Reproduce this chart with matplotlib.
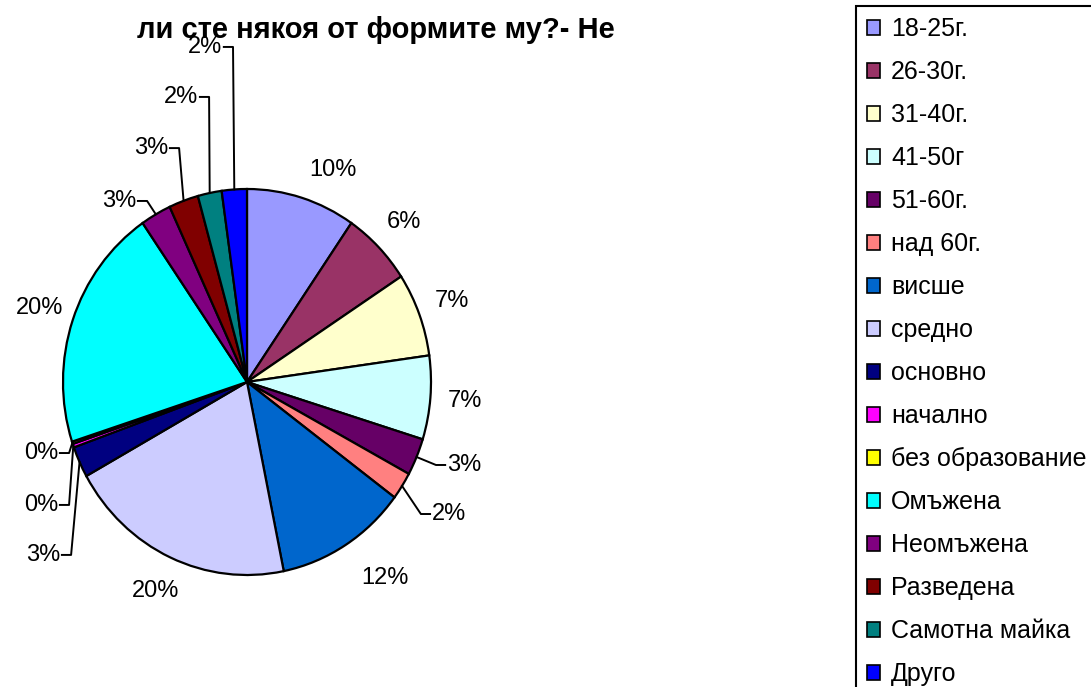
import numpy as np
import matplotlib.pyplot as plt
from matplotlib.patches import Patch

plt.rcParams['font.family'] = ['Liberation Sans', 'DejaVu Sans']

# данни
categories = ["18-25г.", "26-30г.", "31-40г.", "41-50г", "51-60г.", "над 60г.",
              "висше", "средно", "основно", "начално", "без образование",
              "Омъжена", "Неомъжена", "Разведена", "Самотна майка", "Друго"]
values = [9.6, 6.2, 7.0, 7.0, 3.1, 2.3, 11.6, 20.1, 2.6, 0.3, 0.2,
          20.4, 2.7, 2.6, 2.1, 2.2]
colors = ["#9999FF", "#993366", "#FFFFCC", "#CCFFFF", "#660066", "#FF8080",
          "#0066CC", "#CCCCFF", "#000080", "#FF00FF", "#FFFF00",
          "#00FFFF", "#800080", "#800000", "#008080", "#0000FF"]
title = "ли сте някоя от формите му?- Не"

# етикети с водеща линия: (x, y) на края на текста, в единици радиус
leader_pos = {4: (1.087, -0.430), 5: (1.005, -0.684),
              8: (-1.016, -0.896), 9: (-1.027, -0.637), 10: (-1.027, -0.368),
              12: (-0.603, 0.938), 13: (-0.429, 1.212), 14: (-0.266, 1.477),
              15: (-0.136, 1.736)}
# малки корекции на останалите етикети (в пиксели, + е надолу)
label_nudge = {0: (21, 7), 6: (21, 2)}

W, H = 1091, 687
cx, cy, rx, ry = 247, 382, 184, 193

fig = plt.figure(figsize=(W / 100, H / 100), dpi=100)
ax = fig.add_axes([0, 0, 1, 1])
wedges, _ = ax.pie(values, colors=colors, startangle=90, counterclock=False,
                   wedgeprops=dict(edgecolor="black", linewidth=1.6))
ax.set_aspect("auto")
ax.set_xlim(-cx / rx, (W - cx) / rx)
ax.set_ylim((cy - H) / ry, cy / ry)
ax.axis("off")

total = sum(values)
cum = 0
for i, v in enumerate(values):
    mid = np.deg2rad(90 - (cum + v / 2) / total * 360)
    cum += v
    lab = "%d%%" % round(v / total * 100)
    if i in leader_pos:
        tx, ty = leader_pos[i]
        rim = (np.cos(mid), np.sin(mid))
        side = 1 if tx > 0 else -1
        elbow = tx - side * 0.06
        ax.plot([rim[0], elbow, tx - side * 0.01], [rim[1], ty, ty],
                color="black", lw=1.4, clip_on=False)
        ax.text(tx, ty, lab, ha="left" if side > 0 else "right", va="center",
                fontsize=17)
    else:
        r = 1.19
        nx, ny = label_nudge.get(i, (0, 0))
        ax.text(r * np.cos(mid) + nx / rx, r * np.sin(mid) - ny / ry, lab,
                ha="center", va="center", fontsize=17)

fig.text(376 / W, 1 - 30 / H, title, ha="center", va="center",
         fontsize=21, fontweight="bold")

handles = [Patch(facecolor=c, edgecolor="black", linewidth=1.2) for c in colors]
leg = fig.legend(handles, categories, loc="upper left",
                 bbox_to_anchor=(856 / W, 1 - 6 / H), fontsize=18,
                 handlelength=0.5, handleheight=0.5, handletextpad=0.45,
                 labelspacing=0.76, borderpad=0.45, borderaxespad=0,
                 fancybox=False, edgecolor="black", framealpha=1)
leg.get_frame().set_linewidth(1.5)

fig.savefig("out.png", dpi=100)
